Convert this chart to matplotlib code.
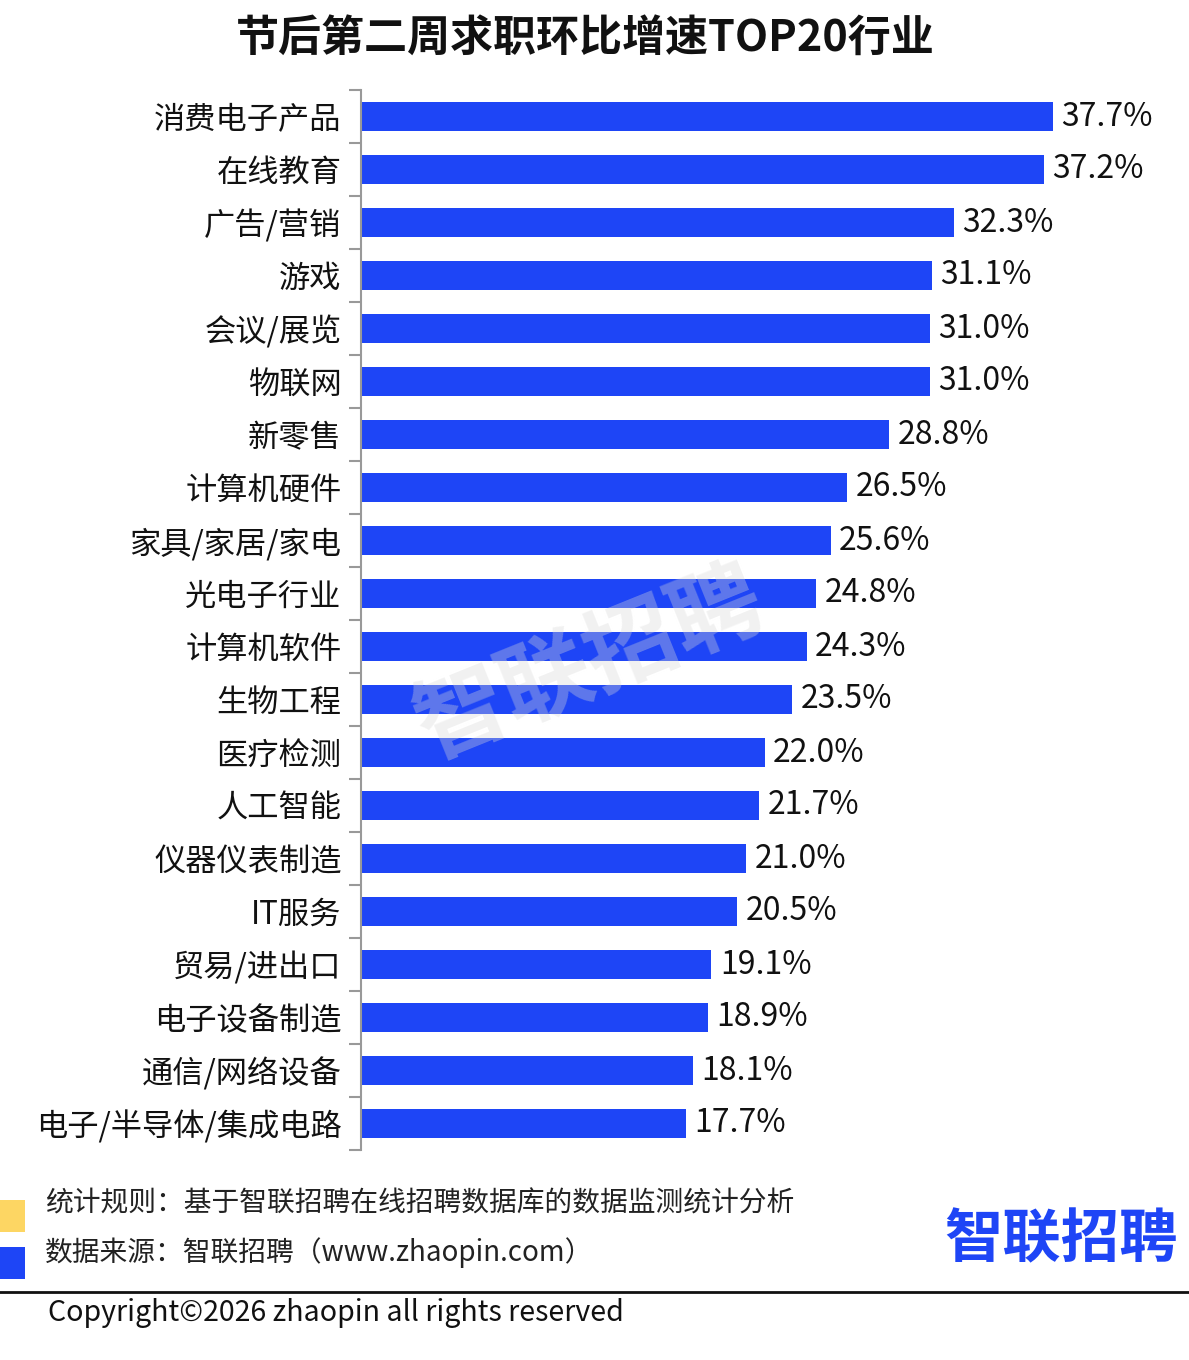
import matplotlib
matplotlib.use('Agg')
import matplotlib.pyplot as plt
from matplotlib.patches import Rectangle
from matplotlib.lines import Line2D

plt.rcParams['font.family'] = ['Noto Sans CJK SC', 'DejaVu Sans']

# 数据
industries = ['消费电子产品', '在线教育', '广告/营销', '游戏', '会议/展览', '物联网', '新零售',
              '计算机硬件', '家具/家居/家电', '光电子行业', '计算机软件', '生物工程', '医疗检测',
              '人工智能', '仪器仪表制造', 'IT服务', '贸易/进出口', '电子设备制造',
              '通信/网络设备', '电子/半导体/集成电路']
growth = [37.7, 37.2, 32.3, 31.1, 31.0, 31.0, 28.8, 26.5, 25.6, 24.8, 24.3, 23.5, 22.0,
          21.7, 21.0, 20.5, 19.1, 18.9, 18.1, 17.7]

blue = '#1e45f6'
yellow = '#fdd663'

W, H = 1189, 1360
fig = plt.figure(figsize=(W / 100, H / 100), dpi=100)
fig.patch.set_facecolor('white')

# 主图区域
ax = fig.add_axes([361 / W, 1 - 1150 / H, (W - 361) / W, (1150 - 90) / H])
ypos = list(range(len(industries)))
ax.barh(ypos, growth, height=0.53, color=blue)
ax.set_ylim(len(industries) - 0.5, -0.5)
ax.set_xlim(0, (W - 361) / 18.35)

for y, v in zip(ypos, growth):
    ax.annotate(f'{v:.1f}%', (v, y), xytext=(6, 0), textcoords='offset points',
                va='center', ha='left', fontsize=23, color='#111111')

# 刻度在类别之间
ax.set_yticks([i - 0.5 for i in range(len(industries) + 1)])
ax.set_yticklabels([])
ax.set_yticks(ypos, minor=True)
ax.set_yticklabels(industries, minor=True, fontsize=22.5, color='#111111')
ax.tick_params(axis='y', which='major', length=9, width=1.5, color='#999999', direction='out')
ax.tick_params(axis='y', which='minor', length=0, pad=14)
ax.set_xticks([])
for s in ['top', 'right', 'bottom']:
    ax.spines[s].set_visible(False)
ax.spines['left'].set_color('#999999')
ax.spines['left'].set_linewidth(1.5)

# 水印
fig.text(590 / W, 1 - 665 / H, '智联招聘', fontsize=66, color='#d8d8d8', alpha=0.35,
         rotation=22, ha='center', va='center', fontweight='bold')

# 标题
fig.text(585 / W, 1 - 38 / H, '节后第二周求职环比增速TOP20行业', fontsize=31, fontweight='bold',
         ha='center', va='center', color='#111111')

# 页脚
fig.add_artist(Rectangle((0, 1 - 1232 / H), 25 / W, 32 / H, transform=fig.transFigure,
                         color=yellow, lw=0))
fig.add_artist(Rectangle((0, 1 - 1279 / H), 25 / W, 32 / H, transform=fig.transFigure,
                         color=blue, lw=0))
fig.text(45 / W, 1 - 1203 / H, '统计规则：基于智联招聘在线招聘数据库的数据监测统计分析',
         fontsize=20, va='center', ha='left', color='#222222')
fig.text(45 / W, 1 - 1253 / H, '数据来源：智联招聘（www.zhaopin.com）',
         fontsize=20, va='center', ha='left', color='#222222')
fig.add_artist(Line2D([0, 1], [1 - 1292 / H, 1 - 1292 / H], transform=fig.transFigure,
                      color='#111111', lw=2))
fig.text(48 / W, 1 - 1313 / H, 'Copyright©2026 zhaopin all rights reserved',
         fontsize=20.6, va='center', ha='left', color='#111111')

# 标志
fig.text(1178 / W, 1 - 1240 / H, '智联招聘', fontsize=42, fontweight='bold', color=blue,
         ha='right', va='center')

fig.savefig('out.png', dpi=100, facecolor='white')
